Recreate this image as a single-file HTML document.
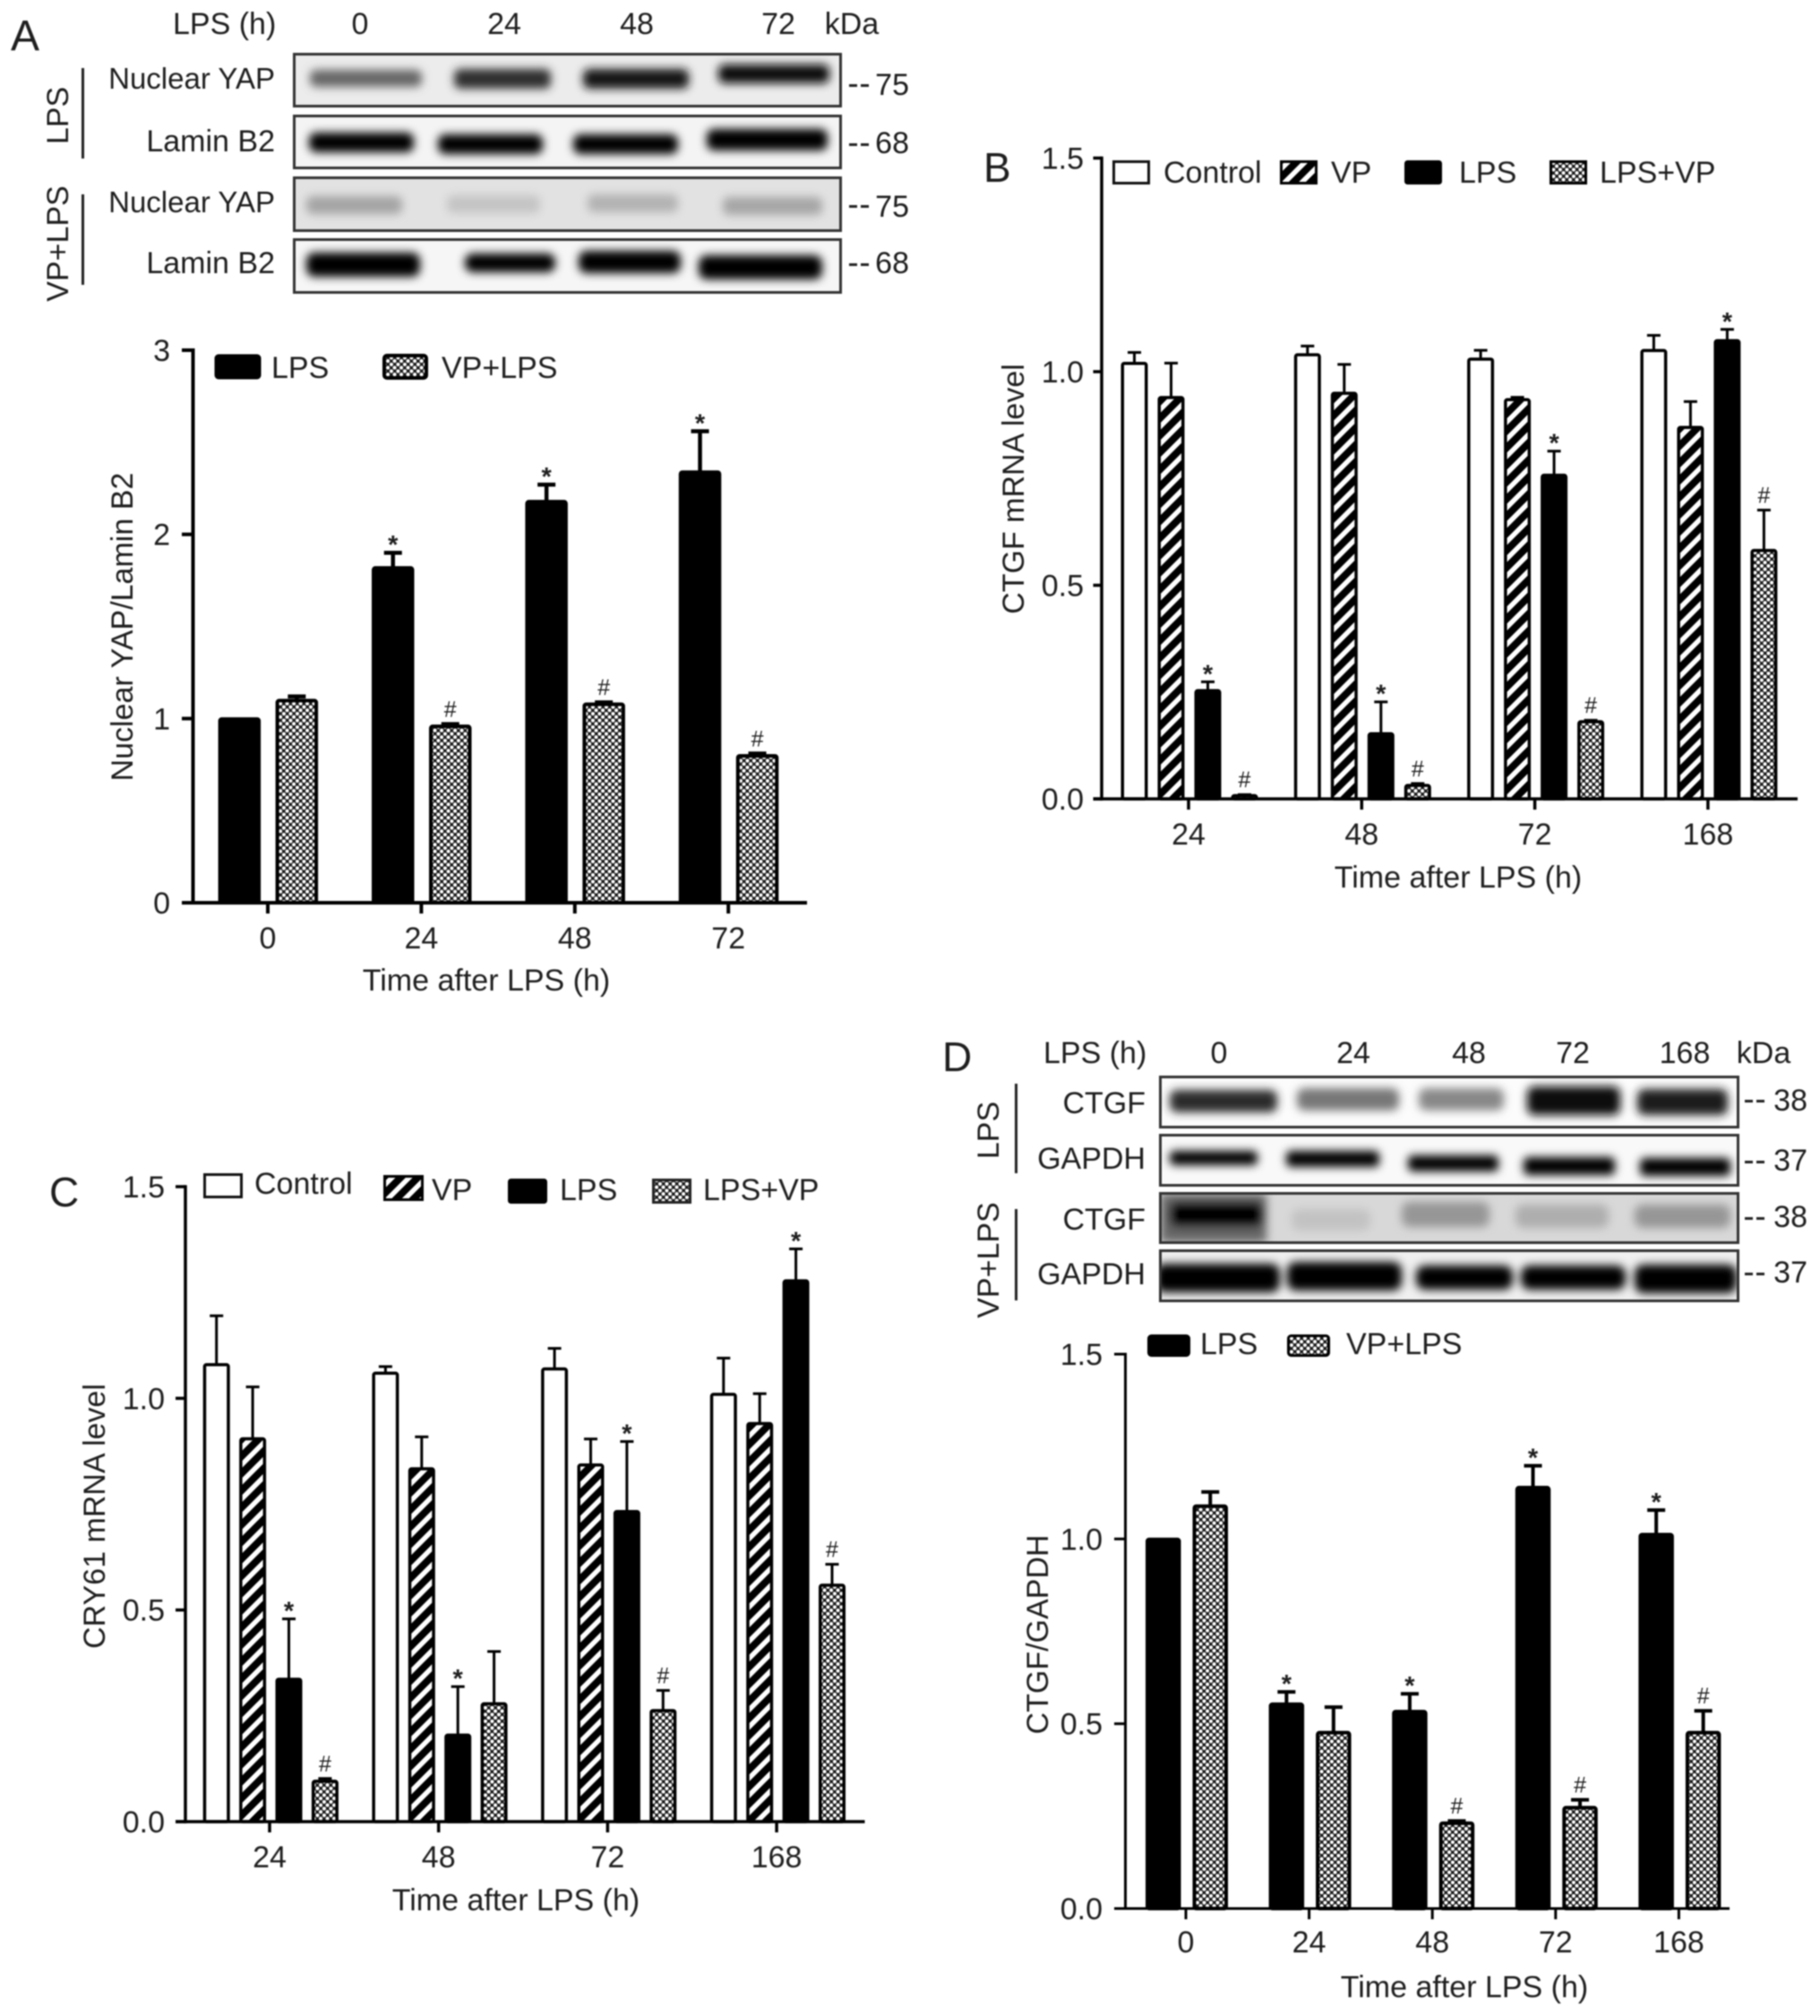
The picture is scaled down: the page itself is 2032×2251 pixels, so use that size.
<!DOCTYPE html>
<html lang="en">
<head>
<meta charset="utf-8">
<title>YAP, CTGF and CRY61 expression after LPS</title>
<style>
html,body{margin:0;padding:0;background:#fff;}
#figure{display:block;width:2032px;height:2251px;filter:blur(.7px);}
text{font-family:"Liberation Sans",Arial,sans-serif;fill:#1e1e1e;font-size:34px;}
.e{text-anchor:end}.m{text-anchor:middle}
</style>
</head>
<body>
<svg id="figure" xmlns="http://www.w3.org/2000/svg" width="2032" height="2251" viewBox="0 0 2032 2251">
<defs>
<pattern id="dots" width="7.5" height="7.5" patternUnits="userSpaceOnUse"><rect width="7.5" height="7.5" fill="#1c1c1c"/><circle cx="1.9" cy="1.9" r="2.1" fill="#fff"/><circle cx="5.6" cy="5.6" r="2.1" fill="#fff"/></pattern>
<pattern id="hatch" width="13.5" height="13.5" patternUnits="userSpaceOnUse" patternTransform="rotate(-45)"><rect width="13.5" height="13.5" fill="#fff"/><rect width="13.5" height="8" fill="#000"/></pattern>
<filter id="soft" x="-30%" y="-150%" width="160%" height="400%"><feGaussianBlur stdDeviation="5"/></filter>
<clipPath id="ca1"><rect x="328" y="60" width="611" height="58"/></clipPath>
<clipPath id="ca2"><rect x="328" y="129" width="611" height="58"/></clipPath>
<clipPath id="ca3"><rect x="328" y="199" width="611" height="58"/></clipPath>
<clipPath id="ca4"><rect x="328" y="268" width="611" height="58"/></clipPath>
<clipPath id="cd1"><rect x="1296" y="1203" width="644" height="55"/></clipPath>
<clipPath id="cd2"><rect x="1296" y="1268" width="644" height="55"/></clipPath>
<clipPath id="cd3"><rect x="1296" y="1333" width="644" height="54"/></clipPath>
<clipPath id="cd4"><rect x="1296" y="1397" width="644" height="55"/></clipPath>
</defs>

<!-- Panel letters -->
<text x="12" y="56" style="font-size:48px">A</text>
<text x="1098" y="203" style="font-size:46px">B</text>
<text x="55" y="1347" style="font-size:46px">C</text>
<text x="1052" y="1196" style="font-size:46px">D</text>

<!-- Blot A -->
<g>
<text x="193" y="38">LPS (h)</text>
<text class="m" x="402" y="38">0</text>
<text class="m" x="563" y="38">24</text>
<text class="m" x="711" y="38">48</text>
<text class="m" x="869" y="38">72</text>
<text class="m" x="951" y="38">kDa</text>

<g>
<rect x="328" y="60" width="611" height="58" fill="#ececec"/>
<g clip-path="url(#ca1)"><g filter="url(#soft)">
<rect x="346" y="78" width="125" height="19" rx="7" fill="#666"/>
<rect x="507" y="77" width="108" height="22" rx="7" fill="#2e2e2e"/>
<rect x="651" y="77" width="118" height="22" rx="7" fill="#141414"/>
<rect x="802" y="72" width="124" height="21" rx="7" fill="#0c0c0c"/>
</g></g>
<rect x="328.5" y="60.5" width="610" height="58" fill="none" stroke="#333" stroke-width="3"/>
</g>
<g>
<rect x="328" y="129" width="611" height="58" fill="#f4f4f4"/>
<g clip-path="url(#ca2)"><g filter="url(#soft)">
<rect x="345" y="148" width="117" height="22" rx="8" fill="#000"/>
<rect x="489" y="150" width="117" height="22" rx="8" fill="#000"/>
<rect x="640" y="150" width="117" height="22" rx="8" fill="#000"/>
<rect x="789" y="144" width="135" height="24" rx="8" fill="#000"/>
</g></g>
<rect x="328.5" y="129.5" width="610" height="58" fill="none" stroke="#333" stroke-width="3"/>
</g>
<g>
<rect x="328" y="199" width="611" height="58" fill="#e2e2e2"/>
<g clip-path="url(#ca3)"><g filter="url(#soft)">
<rect x="342" y="219" width="107" height="20" rx="7" fill="#a4a4a4"/>
<rect x="499" y="218" width="104" height="20" rx="7" fill="#c4c4c4"/>
<rect x="656" y="217" width="101" height="20" rx="7" fill="#b2b2b2"/>
<rect x="807" y="220" width="111" height="20" rx="7" fill="#a6a6a6"/>
</g></g>
<rect x="328.5" y="198.5" width="610" height="59" fill="none" stroke="#333" stroke-width="3"/>
</g>
<g>
<rect x="328" y="268" width="611" height="58" fill="#f6f6f6"/>
<g clip-path="url(#ca4)"><g filter="url(#soft)">
<rect x="342" y="282" width="127" height="27" rx="9" fill="#000"/>
<rect x="519" y="283" width="101" height="21" rx="9" fill="#000"/>
<rect x="646" y="280" width="114" height="25" rx="9" fill="#000"/>
<rect x="780" y="285" width="138" height="27" rx="9" fill="#000"/>
</g></g>
<rect x="328.5" y="267.5" width="610" height="59" fill="none" stroke="#333" stroke-width="3"/>
</g>

<text class="e" x="307" y="99" style="font-size:33px">Nuclear YAP</text>
<text class="e" x="307" y="169">Lamin B2</text>
<text class="e" x="307" y="237" style="font-size:33px">Nuclear YAP</text>
<text class="e" x="307" y="305">Lamin B2</text>
<g fill="#222">
<rect x="948" y="94" width="9" height="3"/><rect x="961" y="94" width="9" height="3"/>
<rect x="948" y="160" width="9" height="3"/><rect x="961" y="160" width="9" height="3"/>
<rect x="948" y="229" width="9" height="3"/><rect x="961" y="229" width="9" height="3"/>
<rect x="948" y="294" width="9" height="3"/><rect x="961" y="294" width="9" height="3"/>
<text class="e" x="1015" y="106">75</text><text class="e" x="1015" y="171">68</text>
<text class="e" x="1015" y="242">75</text><text class="e" x="1015" y="305">68</text>
</g>
<rect x="91" y="76" width="3" height="101" fill="#222"/>
<rect x="91" y="217" width="3" height="101" fill="#222"/>
<text class="m" transform="rotate(-90 76 129)" x="76" y="129">LPS</text>
<text class="m" transform="rotate(-90 76 272)" x="76" y="272">VP+LPS</text>
</g>

<!-- Blot D -->
<g>
<text x="1165" y="1187">LPS (h)</text>
<text class="m" x="1361" y="1187">0</text>
<text class="m" x="1511" y="1187">24</text>
<text class="m" x="1640" y="1187">48</text>
<text class="m" x="1756" y="1187">72</text>
<text class="m" x="1881" y="1187">168</text>
<text class="m" x="1969" y="1187">kDa</text>

<g>
<rect x="1296" y="1203" width="644" height="55" fill="#fcfcfc"/>
<g clip-path="url(#cd1)"><g filter="url(#soft)">
<rect x="1306" y="1217" width="120" height="25" rx="8" fill="#2a2a2a"/>
<rect x="1448" y="1215" width="114" height="25" rx="8" fill="#777"/>
<rect x="1584" y="1215" width="95" height="25" rx="8" fill="#888"/>
<rect x="1705" y="1213" width="104" height="32" rx="8" fill="#0a0a0a"/>
<rect x="1828" y="1216" width="101" height="29" rx="8" fill="#1e1e1e"/>
</g></g>
<rect x="1295.5" y="1202.5" width="645" height="56" fill="none" stroke="#333" stroke-width="3"/>
</g>
<g>
<rect x="1296" y="1268" width="644" height="55" fill="#f9f9f9"/>
<g clip-path="url(#cd2)"><g filter="url(#soft)">
<rect x="1306" y="1285" width="98" height="16" rx="5" fill="#000"/>
<rect x="1436" y="1285" width="104" height="18" rx="5" fill="#000"/>
<rect x="1572" y="1290" width="101" height="18" rx="5" fill="#000"/>
<rect x="1701" y="1292" width="102" height="20" rx="5" fill="#000"/>
<rect x="1831" y="1293" width="101" height="20" rx="5" fill="#000"/>
</g></g>
<rect x="1295.5" y="1267.5" width="645" height="56" fill="none" stroke="#333" stroke-width="3"/>
</g>
<g>
<rect x="1296" y="1333" width="644" height="54" fill="#d8d8d8"/>
<g clip-path="url(#cd3)"><g filter="url(#soft)">
<rect x="1296" y="1333" width="118" height="54" fill="#666"/>
<rect x="1306" y="1342" width="104" height="28" rx="9" fill="#000"/>
<rect x="1442" y="1350" width="88" height="24" rx="9" fill="#c2c2c2"/>
<rect x="1565" y="1342" width="98" height="28" rx="9" fill="#969696"/>
<rect x="1692" y="1345" width="104" height="26" rx="9" fill="#aeaeae"/>
<rect x="1825" y="1345" width="107" height="26" rx="9" fill="#969696"/>
</g></g>
<rect x="1295.5" y="1332.5" width="645" height="55" fill="none" stroke="#333" stroke-width="3"/>
</g>
<g>
<rect x="1296" y="1397" width="644" height="55" fill="#f0f0f0"/>
<g clip-path="url(#cd4)"><g filter="url(#soft)">
<rect x="1290" y="1411" width="139" height="32" rx="10" fill="#000"/>
<rect x="1437" y="1409" width="128" height="32" rx="10" fill="#000"/>
<rect x="1581" y="1413" width="108" height="27" rx="10" fill="#000"/>
<rect x="1698" y="1413" width="117" height="27" rx="10" fill="#000"/>
<rect x="1825" y="1412" width="114" height="32" rx="10" fill="#000"/>
</g></g>
<rect x="1295.5" y="1396.5" width="645" height="56" fill="none" stroke="#333" stroke-width="3"/>
</g>

<text class="e" x="1279" y="1243">CTGF</text>
<text class="e" x="1279" y="1305">GAPDH</text>
<text class="e" x="1279" y="1373">CTGF</text>
<text class="e" x="1279" y="1434">GAPDH</text>
<g fill="#222">
<rect x="1948" y="1228" width="9" height="3"/><rect x="1961" y="1228" width="9" height="3"/>
<rect x="1948" y="1296" width="9" height="3"/><rect x="1961" y="1296" width="9" height="3"/>
<rect x="1948" y="1359" width="9" height="3"/><rect x="1961" y="1359" width="9" height="3"/>
<rect x="1948" y="1421" width="9" height="3"/><rect x="1961" y="1421" width="9" height="3"/>
<text class="e" x="2018" y="1240">38</text><text class="e" x="2018" y="1307">37</text>
<text class="e" x="2018" y="1370">38</text><text class="e" x="2018" y="1432">37</text>
</g>
<rect x="1133" y="1210" width="3" height="100" fill="#222"/>
<rect x="1133" y="1350" width="3" height="102" fill="#222"/>
<text class="m" transform="rotate(-90 1115 1262)" x="1115" y="1262">LPS</text>
<text class="m" transform="rotate(-90 1115 1407)" x="1115" y="1407">VP+LPS</text>
</g>

<!-- Legends -->
<g>
<rect x="241" y="397" width="49" height="25" rx="3" fill="#000" stroke="#000" stroke-width="3"/>
<text x="303" y="422">LPS</text>
<rect x="429" y="397" width="47" height="25" rx="3" fill="url(#dots)" stroke="#000" stroke-width="4"/>
<text x="493" y="422">VP+LPS</text>
</g>
<g>
<rect x="1243.5" y="180.5" width="39" height="24" fill="#fff" stroke="#111" stroke-width="3"/>
<text x="1299" y="204">Control</text>
<rect x="1430.5" y="180.5" width="39" height="24" fill="url(#hatch)" stroke="#000" stroke-width="3"/>
<text x="1486" y="204">VP</text>
<rect x="1569.5" y="180.5" width="39" height="24" rx="2" fill="#000" stroke="#000" stroke-width="3"/>
<text x="1629" y="204">LPS</text>
<rect x="1731.5" y="180.5" width="39" height="24" fill="url(#dots)" stroke="#000" stroke-width="3"/>
<text x="1786" y="204">LPS+VP</text>
</g>
<g>
<rect x="228.5" y="1311.5" width="41" height="25" fill="#fff" stroke="#111" stroke-width="3"/>
<text x="284" y="1333">Control</text>
<rect x="429.5" y="1313.5" width="42" height="26" fill="url(#hatch)" stroke="#000" stroke-width="3"/>
<text x="482" y="1340">VP</text>
<rect x="568.5" y="1317.5" width="41" height="25" rx="2" fill="#000" stroke="#000" stroke-width="3"/>
<text x="625" y="1340">LPS</text>
<rect x="729.5" y="1317.5" width="41" height="25" fill="url(#dots)" stroke="#222" stroke-width="3"/>
<text x="785" y="1340">LPS+VP</text>
</g>
<g>
<rect x="1282.5" y="1491.5" width="45" height="22" rx="3" fill="#000" stroke="#000" stroke-width="3"/>
<text x="1340" y="1512">LPS</text>
<rect x="1438.5" y="1491.5" width="45" height="22" rx="3" fill="url(#dots)" stroke="#000" stroke-width="3"/>
<text x="1503" y="1512">VP+LPS</text>
</g>

<g id="charts"></g>
</svg>

<script>
// Panel A: Nuclear YAP / Lamin B2
const aCategories = ['0', '24', '48', '72'];
const aYTickLabels = ['0', '1', '2', '3'];
const aLps = [1.00, 1.82, 2.18, 2.34];
const aLpsErr = [0, 0.08, 0.09, 0.22];
const aLpsMarks = ['', '*', '*', '*'];
const aVpLps = [1.10, 0.96, 1.08, 0.80];
const aVpLpsErr = [0.02, 0.01, 0.008, 0.01];
const aVpLpsMarks = ['', '#', '#', '#'];

// Panel B: CTGF mRNA level
const bCategories = ['24', '48', '72', '168'];
const bYTickLabels = ['0.0', '0.5', '1.0', '1.5'];
const bControl = [1.02, 1.04, 1.03, 1.05];
const bControlErr = [0.025, 0.02, 0.02, 0.035];
const bVp = [0.94, 0.95, 0.935, 0.87];
const bVpErr = [0.08, 0.067, 0.005, 0.06];
const bLps = [0.254, 0.153, 0.758, 1.073];
const bLpsErr = [0.02, 0.074, 0.056, 0.026];
const bLpsMarks = ['*', '*', '*', '*'];
const bLpsVp = [0.008, 0.032, 0.181, 0.582];
const bLpsVpErr = [0.002, 0.004, 0.003, 0.094];
const bLpsVpMarks = ['#', '#', '#', '#'];

// Panel C: CRY61 mRNA level
const cCategories = ['24', '48', '72', '168'];
const cYTickLabels = ['0.0', '0.5', '1.0', '1.5'];
const cControl = [1.08, 1.06, 1.07, 1.01];
const cControlErr = [0.115, 0.015, 0.048, 0.085];
const cVp = [0.905, 0.834, 0.843, 0.941];
const cVpErr = [0.122, 0.075, 0.061, 0.07];
const cLps = [0.337, 0.205, 0.733, 1.278];
const cLpsErr = [0.142, 0.114, 0.165, 0.075];
const cLpsMarks = ['*', '*', '*', '*'];
const cLpsVp = [0.096, 0.279, 0.263, 0.559];
const cLpsVpErr = [0.006, 0.123, 0.047, 0.049];
const cLpsVpMarks = ['#', '', '#', '#'];

// Panel D: CTGF / GAPDH
const dCategories = ['0', '24', '48', '72', '168'];
const dYTickLabels = ['0.0', '0.5', '1.0', '1.5'];
const dLps = [1.00, 0.554, 0.534, 1.14, 1.013];
const dLpsErr = [0, 0.032, 0.047, 0.058, 0.065];
const dLpsMarks = ['', '*', '*', '*', '*'];
const dVpLps = [1.09, 0.477, 0.232, 0.274, 0.477];
const dVpLpsErr = [0.037, 0.068, 0.005, 0.02, 0.058];
const dVpLpsMarks = ['', '', '#', '#', '#'];

const NS = 'http://www.w3.org/2000/svg';
const root = document.getElementById('charts');

function mk(parent, tag, attrs, text) {
  const el = document.createElementNS(NS, tag);
  for (const k in attrs) el.setAttribute(k, attrs[k]);
  if (text !== undefined) el.textContent = text;
  parent.appendChild(el);
  return el;
}

function drawChart(id, cfg, categories, yTickLabels, series) {
  const yMax = parseFloat(yTickLabels[yTickLabels.length - 1]);
  const yScale = v => cfg.y0 - (v / yMax) * (cfg.y0 - cfg.yTop);
  const xTick = g => cfg.tick0 + g * cfg.step;
  const xBar = (g, s) => cfg.bar0 + g * cfg.step + s * cfg.barStep;

  const g = mk(root, 'g', {});
  
  

  series.forEach((ser, s) => {
    ser.values.forEach((val, i) => {
      const x = xBar(i, s);
      const sw = cfg.barStroke;
      const cx = x + cfg.barW / 2;
      const err = ser.errors[i];
      const top = yScale(val + err);
      if (err > 0) {
        const stem = mk(g, 'line', { x1: cx, x2: cx, y1: yScale(val), y2: top, stroke: '#000', 'stroke-width': cfg.errStroke });
        
        
        const cap = mk(g, 'line', { x1: cx - cfg.capW / 2, x2: cx + cfg.capW / 2, y1: top, y2: top, stroke: '#000', 'stroke-width': cfg.errStroke });
        
        
      }
      const barTop = yScale(val) - 1.5 + sw / 2;
      const bar = mk(g, 'rect', {
        x: x + sw / 2, y: barTop, width: cfg.barW - sw,
        height: Math.max(0, cfg.y0 - barTop), rx: 2,
        fill: ser.fill, stroke: '#000', 'stroke-width': sw
      });
      
      
      const mark = ser.marks ? ser.marks[i] : '';
      if (mark === '*') {
        const t = mk(g, 'text', { class: 'm', x: cx, y: top + 1, style: 'font-size:29px;font-weight:bold' }, '*');
        
        
      } else if (mark === '#') {
        const t = mk(g, 'text', { class: 'm', x: cx, y: top - 8, style: 'font-size:25px' }, '#');
        
        
      }
    });
  });

  const yAxis = mk(g, 'line', { x1: cfg.axisX, x2: cfg.axisX, y1: cfg.yTop - cfg.axisStroke / 2, y2: cfg.y0 + cfg.axisStroke / 2, stroke: '#000', 'stroke-width': cfg.axisStroke });
  
  
  const xAxis = mk(g, 'line', { x1: cfg.xStart, x2: cfg.xEnd, y1: cfg.y0, y2: cfg.y0, stroke: '#000', 'stroke-width': cfg.axisStroke });
  
  

  yTickLabels.forEach(lbl => {
    const y = yScale(parseFloat(lbl));
    const tick = mk(g, 'line', { x1: cfg.xStart, x2: cfg.axisX, y1: y, y2: y, stroke: '#000', 'stroke-width': cfg.axisStroke });
    
    
    const t = mk(g, 'text', { class: 'e', x: cfg.yLabelX, y: y + 12 }, lbl);
    
    
  });

  categories.forEach((lbl, i) => {
    const x = xTick(i);
    const tick = mk(g, 'line', { x1: x, x2: x, y1: cfg.y0, y2: cfg.y0 + 12, stroke: '#000', 'stroke-width': cfg.axisStroke });
    
    
    const t = mk(g, 'text', { class: 'm', x: x, y: cfg.xLabelY + 12 }, lbl);
    
    
  });

  const xTitle = mk(g, 'text', { class: 'm', x: cfg.xTitleX, y: cfg.xTitleY + 12 }, 'Time after LPS (h)');
  
  
  const tx = cfg.yTitleX + 12;
  const yTitle = mk(g, 'text', { class: 'm', x: tx, y: cfg.yTitleY, transform: 'rotate(-90 ' + tx + ' ' + cfg.yTitleY + ')' }, cfg.yTitle);
  
  
}

drawChart('a', { axisX: 215.5, xStart: 203, xEnd: 901, y0: 1008, yTop: 391, tick0: 299, step: 171.4, bar0: 243.6, barStep: 64, barW: 47.5, barStroke: 4, errStroke: 4.5, capW: 20, axisStroke: 4, yLabelX: 190, xLabelY: 1047, xTitleX: 543, xTitleY: 1094, yTitleX: 136, yTitleY: 700, yTitle: 'Nuclear YAP/Lamin B2' },
  aCategories, aYTickLabels, [
    { name: 'lps', values: aLps, errors: aLpsErr, marks: aLpsMarks, fill: '#000' },
    { name: 'vp-lps', values: aVpLps, errors: aVpLpsErr, marks: aVpLpsMarks, fill: 'url(#dots)' }
  ]);

drawChart('b', { axisX: 1230, xStart: 1220.5, xEnd: 2007, y0: 892, yTop: 176.5, tick0: 1327, step: 193.3, bar0: 1251.5, barStep: 41, barW: 30, barStroke: 3.5, errStroke: 3, capW: 15, axisStroke: 3.5, yLabelX: 1210, xLabelY: 931, xTitleX: 1628, xTitleY: 979, yTitleX: 1131, yTitleY: 546, yTitle: 'CTGF mRNA level' },
  bCategories, bYTickLabels, [
    { name: 'control', values: bControl, errors: bControlErr, fill: '#fff' },
    { name: 'vp', values: bVp, errors: bVpErr, fill: 'url(#hatch)' },
    { name: 'lps', values: bLps, errors: bLpsErr, marks: bLpsMarks, fill: '#000' },
    { name: 'lps-vp', values: bLpsVp, errors: bLpsVpErr, marks: bLpsVpMarks, fill: 'url(#dots)' }
  ]);

drawChart('c', { axisX: 207, xStart: 196, xEnd: 965.5, y0: 2034, yTop: 1325, tick0: 301, step: 188.7, bar0: 226.7, barStep: 40.4, barW: 30, barStroke: 3.5, errStroke: 3, capW: 15, axisStroke: 3.5, yLabelX: 184, xLabelY: 2073, xTitleX: 576, xTitleY: 2121, yTitleX: 105, yTitleY: 1693, yTitle: 'CRY61 mRNA level' },
  cCategories, cYTickLabels, [
    { name: 'control', values: cControl, errors: cControlErr, fill: '#fff' },
    { name: 'vp', values: cVp, errors: cVpErr, fill: 'url(#hatch)' },
    { name: 'lps', values: cLps, errors: cLpsErr, marks: cLpsMarks, fill: '#000' },
    { name: 'lps-vp', values: cLpsVp, errors: cLpsVpErr, marks: cLpsVpMarks, fill: 'url(#dots)' }
  ]);

drawChart('d', { axisX: 1256.5, xStart: 1244, xEnd: 1931, y0: 2131, yTop: 1512, tick0: 1324, step: 137.6, bar0: 1279, barStep: 52.5, barW: 39.5, barStroke: 4, errStroke: 4, capW: 20, axisStroke: 3, yLabelX: 1231, xLabelY: 2168, xTitleX: 1635, xTitleY: 2218, yTitleX: 1158, yTitleY: 1825, yTitle: 'CTGF/GAPDH' },
  dCategories, dYTickLabels, [
    { name: 'lps', values: dLps, errors: dLpsErr, marks: dLpsMarks, fill: '#000' },
    { name: 'vp-lps', values: dVpLps, errors: dVpLpsErr, marks: dVpLpsMarks, fill: 'url(#dots)' }
  ]);
</script>
</body>
</html>
